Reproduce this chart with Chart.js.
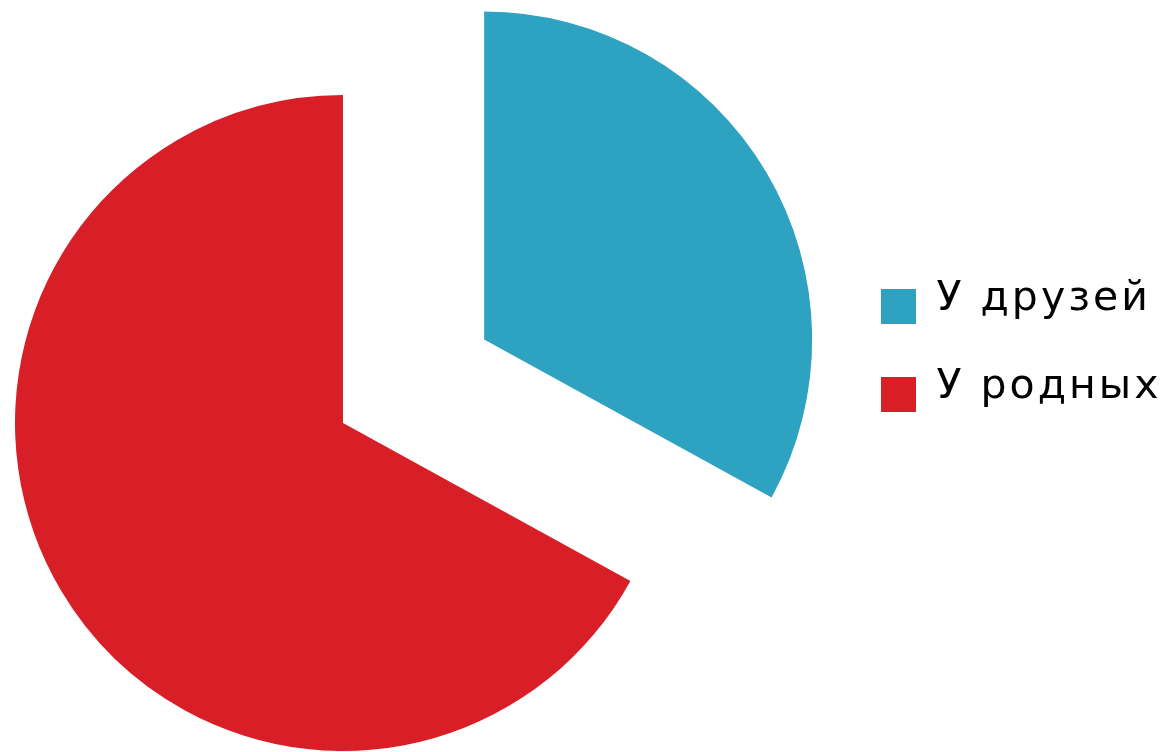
<!DOCTYPE html>
<html>
<head>
<meta charset="utf-8">
<script src="https://cdn.jsdelivr.net/npm/chart.js@4/dist/chart.umd.min.js"></script>
<style>
  html, body { margin: 0; padding: 0; background: #fff; overflow: hidden; }
  /* the canvas runs 148px past the left edge so the pie centre sits where it does in the picture */
  #wrap { position: absolute; left: -148px; top: 0; width: 1319px; height: 752px; }
</style>
</head>
<body>
<div id="wrap"><canvas id="chart"></canvas></div>
<script>
const labels = ['У друзей', 'У родных'];
const shares = [33, 67];
const colors = ['#2ea2c1', '#d81f28'];
const offsets = [656, 0];

// legend square, drawn a little below the middle of the text line
function legendSquare(color) {
    const c = document.createElement('canvas');
    c.width = 35;
    c.height = 49;
    const g = c.getContext('2d');
    g.fillStyle = color;
    g.fillRect(0, 14, 35, 35);
    return c;
}
const squares = colors.map(legendSquare);

// Chart.js grows an exploded slice's radius and trims its angle a little;
// undo that so the moved slice keeps the same radius and angle as the data
const sameRadius = {
    id: 'sameRadius',
    afterDatasetUpdate(chart, args) {
        const meta = args.meta;
        const r = meta.controller.outerRadius;
        meta.data.forEach(arc => {
            const off = (arc.options.offset || 0) / 4;
            if (!off) return;
            const grow = off * (1 - Math.sin(Math.min(Math.PI, arc.circumference)));
            arc.outerRadius = r - grow;
            const trim = grow / (2 * Math.PI * r);
            arc.startAngle -= trim;
            arc.endAngle += trim;
        });
    }
};

// the legend text in the picture is spaced out a bit
const legendSpacing = {
    id: 'legendSpacing',
    beforeLayout(chart) { chart.ctx.letterSpacing = '3px'; },
    beforeDraw(chart) { chart.ctx.letterSpacing = '3px'; }
};

new Chart(document.getElementById('chart').getContext('2d'), {
    type: 'pie',
    data: {
        labels: labels,
        datasets: [{
            data: shares,
            backgroundColor: colors,
            offset: offsets,
            borderWidth: 0,
            radius: 328,
            cutout: '0%',
            clip: false
        }]
    },
    options: {
        responsive: true,
        maintainAspectRatio: false,
        animation: false,
        events: [],
        layout: {
            padding: { left: 0, right: 0, top: 232, bottom: 138 }
        },
        plugins: {
            tooltip: { enabled: false },
            legend: {
                position: 'right',
                align: 'start',
                maxWidth: 337,
                labels: {
                    usePointStyle: true,
                    boxWidth: 35,
                    boxHeight: 35,
                    padding: 47,
                    color: '#000',
                    font: { family: 'DejaVu Sans', size: 41 },
                    generateLabels(chart) {
                        const items = Chart.overrides.pie.plugins.legend.labels.generateLabels(chart);
                        items.forEach((item, i) => { item.pointStyle = squares[i]; });
                        return items;
                    }
                }
            }
        }
    },
    plugins: [sameRadius, legendSpacing]
});
</script>
</body>
</html>
